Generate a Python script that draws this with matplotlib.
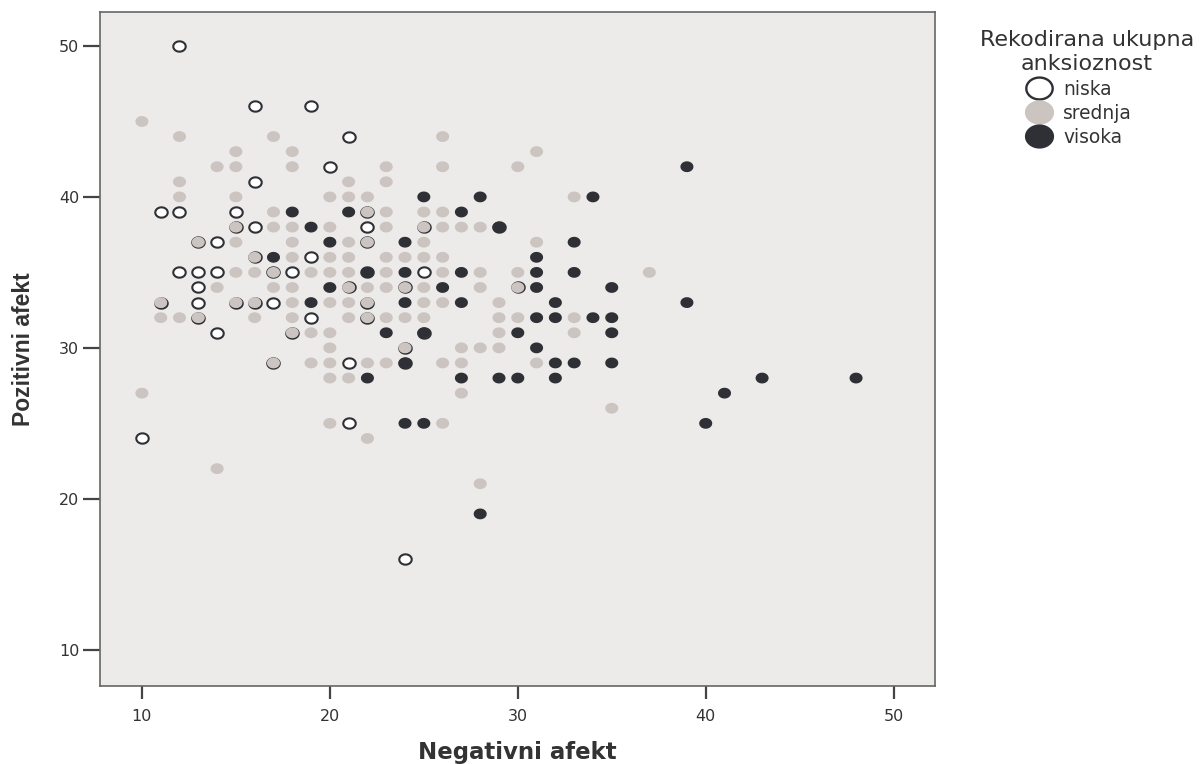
import numpy as np
import matplotlib.pyplot as plt
from matplotlib.path import Path
from matplotlib.lines import Line2D

# niska (includes points that sit under a srednja / visoka point)
niska_x = [12, 16, 19, 21, 20, 16, 11, 12, 15, 16, 22, 14, 19, 12, 13, 14, 18, 25,
           13, 13, 17, 19, 14, 21, 21, 10, 24,
           22, 15, 25, 13, 22, 16, 17, 21, 24, 30, 11, 15, 16, 22, 13, 22, 18, 24, 17,
           22, 29, 25, 24]
niska_y = [50, 46, 46, 44, 42, 41, 39, 39, 39, 38, 38, 37, 36, 35, 35, 35, 35, 35,
           34, 33, 33, 32, 31, 29, 25, 24, 16,
           39, 38, 38, 37, 37, 36, 35, 34, 34, 34, 33, 33, 33, 33, 32, 32, 31, 30, 29,
           35, 38, 31, 29]

srednja_x = [10,
             12, 17, 26,
             15, 18, 31,
             14, 15, 18, 23, 26, 30,
             12, 21, 23,
             12, 15, 20, 21, 22, 33,
             17, 22, 23, 25, 26,
             15, 17, 18, 20, 23, 25, 26, 27, 28,
             13, 15, 18, 21, 22, 25, 31,
             16, 18, 20, 21, 23, 24, 25, 26,
             15, 16, 17, 19, 20, 21, 23, 26, 28, 30, 37,
             14, 17, 18, 21, 22, 23, 24, 25, 28, 30,
             11, 15, 16, 18, 20, 21, 22, 25, 26, 29,
             11, 12, 13, 16, 18, 21, 22, 23, 24, 25, 29, 30, 33,
             18, 19, 20, 29, 33,
             20, 24, 27, 28, 29,
             17, 19, 20, 22, 23, 26, 27, 31,
             20, 21,
             10, 27,
             35,
             20, 26,
             22,
             14,
             28]
srednja_y = [45,
             44, 44, 44,
             43, 43, 43,
             42, 42, 42, 42, 42, 42,
             41, 41, 41,
             40, 40, 40, 40, 40, 40,
             39, 39, 39, 39, 39,
             38, 38, 38, 38, 38, 38, 38, 38, 38,
             37, 37, 37, 37, 37, 37, 37,
             36, 36, 36, 36, 36, 36, 36, 36,
             35, 35, 35, 35, 35, 35, 35, 35, 35, 35, 35,
             34, 34, 34, 34, 34, 34, 34, 34, 34, 34,
             33, 33, 33, 33, 33, 33, 33, 33, 33, 33,
             32, 32, 32, 32, 32, 32, 32, 32, 32, 32, 32, 32, 32,
             31, 31, 31, 31, 31,
             30, 30, 30, 30, 30,
             29, 29, 29, 29, 29, 29, 29, 29,
             28, 28,
             27, 27,
             26,
             25, 25,
             24,
             22,
             21]

visoka_x = [39,
            25, 28, 34,
            18, 21, 27,
            19, 29,
            20, 24, 33,
            17, 31,
            22, 24, 27, 31, 33,
            20, 26, 31, 35,
            19, 24, 27, 32, 39,
            31, 32, 34, 35,
            23, 25, 30, 35,
            31,
            24, 32, 33, 35,
            22, 27, 29, 30, 32, 43, 48,
            41,
            24, 25, 40,
            28]
visoka_y = [42,
            40, 40, 40,
            39, 39, 39,
            38, 38,
            37, 37, 37,
            36, 36,
            35, 35, 35, 35, 35,
            34, 34, 34, 34,
            33, 33, 33, 33, 33,
            32, 32, 32, 32,
            31, 31, 31, 31,
            30,
            29, 29, 29, 29,
            28, 28, 28, 28, 28, 28, 28,
            27,
            25, 25, 25,
            19]

group_names = ['niska', 'srednja', 'visoka']

bg = '#ECEBE9'
grey_dot = '#CBC4C1'
dark_dot = '#2F3036'

# the original picture is stretched sideways, so the dots are small ellipses
t = np.linspace(0, 2 * np.pi, 60)
ellipse = Path(np.column_stack([np.cos(t), 0.83 * np.sin(t)]), closed=True)

fig = plt.figure(figsize=(12.04, 7.64), dpi=100)
ax = fig.add_axes([100 / 1204, 78 / 764, 835 / 1204, 674 / 764])
ax.set_facecolor(bg)

ax.scatter(niska_x, niska_y, s=80, marker=ellipse, facecolor='white',
           edgecolor=dark_dot, linewidths=1.5, zorder=2)
ax.scatter(srednja_x, srednja_y, s=88, marker=ellipse, facecolor=grey_dot,
           edgecolor='none', zorder=3)
ax.scatter(visoka_x, visoka_y, s=88, marker=ellipse, facecolor=dark_dot,
           edgecolor='none', zorder=4)

ax.set_xlim(7.77, 52.2)
ax.set_ylim(7.6, 52.25)
ax.set_xticks([10, 20, 30, 40, 50])
ax.set_yticks([10, 20, 30, 40, 50])

for s in ax.spines.values():
    s.set_color('#666666')
    s.set_linewidth(1.2)

ax.tick_params(axis='x', length=9.5, width=1.6, color='#444444', pad=7,
               labelsize=11.5, labelcolor='#333333')
ax.tick_params(axis='y', length=12, width=1.6, color='#444444', pad=3,
               labelsize=11.5, labelcolor='#333333')

ax.set_xlabel('Negativni afekt', fontsize=16.5, fontweight='bold',
              color='#333333', labelpad=12)
ax.set_ylabel('Pozitivni afekt', fontsize=16.5, fontweight='bold',
              color='#333333', family='Liberation Sans', labelpad=17)

# legend
fig.text(1087 / 1204, 1 - 30 / 764, 'Rekodirana ukupna\nanksioznost', ha='center',
         va='top', fontsize=16, color='#333333', linespacing=1.22)

handles = [
    Line2D([], [], ls='', marker=ellipse, markersize=19, markerfacecolor='white',
           markeredgecolor=dark_dot, markeredgewidth=1.7),
    Line2D([], [], ls='', marker=ellipse, markersize=21, markerfacecolor=grey_dot,
           markeredgecolor='none'),
    Line2D([], [], ls='', marker=ellipse, markersize=21, markerfacecolor=dark_dot,
           markeredgecolor='none'),
]
fig.legend(handles, group_names, loc='upper left',
           bbox_to_anchor=(1028 / 1204, 1 - 80 / 764), frameon=False,
           fontsize=13.4, labelcolor='#333333', handlelength=1.2,
           handletextpad=0.7, labelspacing=0.26, borderpad=0, borderaxespad=0)

fig.savefig('out.png', dpi=100, facecolor='white')
